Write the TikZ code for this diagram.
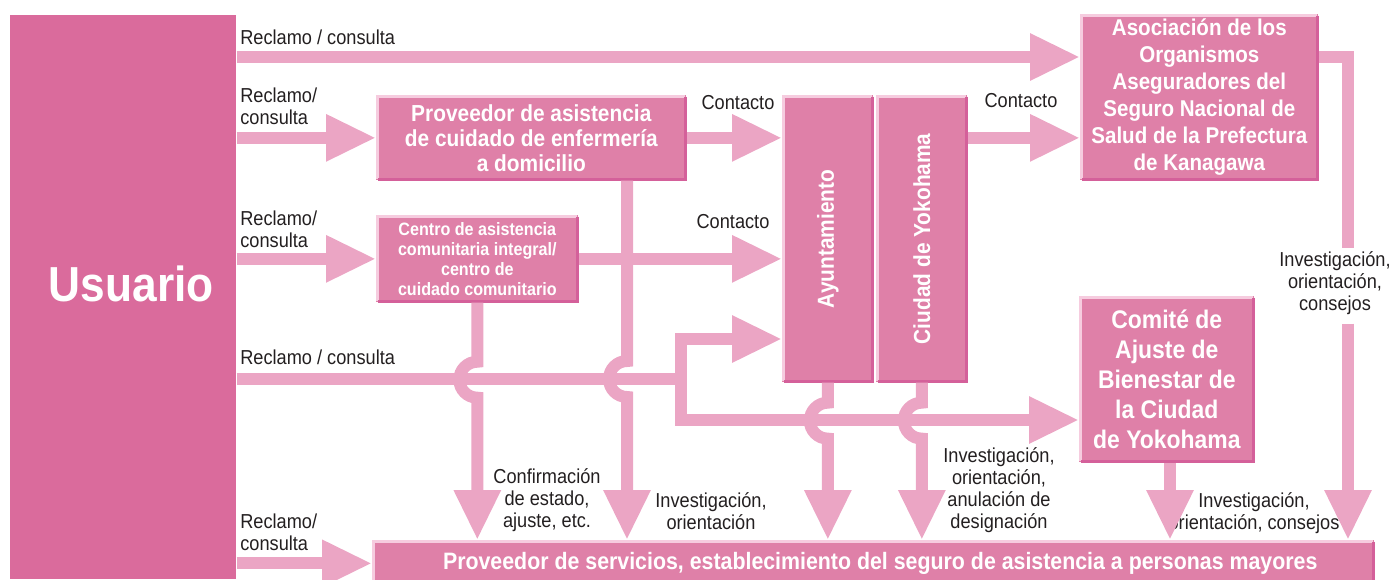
\documentclass[tikz,border=0pt]{standalone}
\usepackage{fontspec}
\setmainfont{Liberation Sans}[FakeStretch=0.9]
\usetikzlibrary{arrows.meta}

\definecolor{usercol}{HTML}{DA6B9C}
\definecolor{boxcol}{HTML}{DF80A8}
\definecolor{arrowcol}{HTML}{EBA5C4}
\definecolor{edgelight}{HTML}{F6CCDF}
\definecolor{edgedark}{HTML}{D4609A}
\definecolor{ink}{HTML}{231F20}

\tikzset{
  box/.style={fill=boxcol, text=white, align=center, inner sep=0pt, anchor=north west,
    font=\bfseries\fontsize{13.2}{14.2}\selectfont},
  link/.style={draw=arrowcol, line width=0.24cm},
  flow/.style={link, -{Triangle[length=1cm,width=0.88cm]}},
  lbl/.style={text=ink, inner sep=0pt, align=center, font=\fontsize{11.5}{12.5}\selectfont},
  lightedge/.style={draw=edgelight, line width=0.06cm},
  darkedge/.style={draw=edgedark, line width=0.06cm},
}

\begin{document}
\begin{tikzpicture}[x=0.02cm, y=-0.02cm]
\useasboundingbox (0,0) rectangle (1394,579);
\clip (0,0) rectangle (1394,579);

% boxes
\node[box, fill=usercol, minimum width=4.52cm, minimum height=11.28cm,
  font=\bfseries\fontsize{28}{30}\selectfont, text height=20pt, text depth=14.8pt] (usuario) at (10,15) {\hspace*{0.32cm}Usuario};
\node[box, minimum width=4.76cm, minimum height=3.32cm, font=\bfseries\fontsize{13}{15.4}\selectfont] (asoc) at (1080,14)
  {Asociación de los\\Organismos\\Aseguradores del\\Seguro Nacional de\\Salud de la Prefectura\\de Kanagawa};
\node[box, minimum width=6.2cm, minimum height=1.7cm] (prov) at (376,95)
  {Proveedor de asistencia\\de cuidado de enfermería\\a domicilio};
\node[box, minimum width=4.04cm, minimum height=1.74cm, font=\bfseries\fontsize{10.2}{11.3}\selectfont] (centro) at (376,215)
  {Centro de asistencia\\comunitaria integral/\\centro de\\cuidado comunitario};
\node[box, minimum width=1.82cm, minimum height=5.74cm] (ayu) at (782,95) {\rotatebox{90}{Ayuntamiento}};
\node[box, minimum width=1.82cm, minimum height=5.74cm] (ciudad) at (876,95) {\rotatebox{90}{Ciudad de Yokohama}};
\node[box, minimum width=3.5cm, minimum height=3.32cm, font=\bfseries\fontsize{14.5}{17}\selectfont] (comite) at (1079,296)
  {Comité de\\Ajuste de\\Bienestar de\\la Ciudad\\de Yokohama};
\node[box, minimum width=20.04cm, minimum height=0.92cm, font=\bfseries\fontsize{13.5}{15}\selectfont] (serv) at (372,540)
  {\hspace*{0.28cm}Proveedor de servicios, establecimiento del seguro de asistencia a personas mayores};

% bevelled edges
\foreach \n in {asoc,prov,centro,ayu,ciudad,comite,serv} {
  \draw[lightedge] ([shift={(1.5,-1.5)}]\n.south west) -- ([shift={(1.5,1.5)}]\n.north west) -- ([shift={(-1.5,1.5)}]\n.north east);
  \draw[darkedge] ([shift={(-1.5,1.5)}]\n.north east) -- ([shift={(-1.5,-1.5)}]\n.south east) -- ([shift={(1.5,-1.5)}]\n.south west);
}

% labels
\node[lbl, anchor=west] (rc1) at (240,37) {Reclamo / consulta};
\node[lbl, anchor=west, align=left] (rc2) at (240,106) {Reclamo/\\consulta};
\node[lbl, anchor=west, align=left] (rc3) at (240,229) {Reclamo/\\consulta};
\node[lbl, anchor=west] (rc4) at (240,357) {Reclamo / consulta};
\node[lbl, anchor=west, align=left] (rc5) at (240,532) {Reclamo/\\consulta};
\node[lbl] (ct1) at (738,103) {Contacto};
\node[lbl] (ct2) at (733,222) {Contacto};
\node[lbl] (ct3) at (1021,101) {Contacto};
\node[lbl] (conf) at (547,500) {Confirmación\\de estado,\\ajuste, etc.};
\node[lbl] (inv1) at (711,511) {Investigación,\\orientación};
\node[lbl] (inv2) at (999,490) {Investigación,\\orientación,\\anulación de\\designación};
\node[lbl] (inv3) at (1254,513) {Investigación,\\orientación, consejos};
\node[lbl] (inv4) at (1335,283) {Investigación,\\orientación,\\consejos};

% from the user
\draw[flow] (usuario.east |- 0,57) -- (asoc.west |- 0,57);
\draw[flow] (usuario.east |- prov.west) -- (prov.west);
\draw[flow] (usuario.east |- centro.west) -- (centro.west);
\draw[link] (usuario.east |- 0,379) -- (681,379);
\draw[flow] (681,379) |- (ayu.west |- 0,339);
\draw[flow] (681,379) |- (comite.west |- 0,420);
\draw[flow] (usuario.east |- serv.west) -- (serv.west);

% contact
\draw[flow] (prov.east) -- (ayu.west |- prov.east);
\draw[flow] (centro.east) -- (ayu.west |- centro.east);
\draw[flow] (ciudad.east |- prov.east) -- (asoc.west |- prov.east);

% down to the service provider
\draw[flow] (centro.south) -- ++(0,59) arc (270:90:18) -- (serv.north -| centro.south);
\draw[flow] (prov.south -| 627,0) -- (627,361) arc (270:90:18) -- (serv.north -| 627,0);
\draw[flow] (ayu.south) -- ++(0,20) arc (270:90:18) -- (serv.north -| ayu.south);
\draw[flow] (ciudad.south) -- ++(0,20) arc (270:90:18) -- (serv.north -| ciudad.south);
\draw[flow] (comite.south -| 1170,0) -- (serv.north -| 1170,0);
\draw[link] (asoc.east |- 0,57) -| ([yshift=2pt]inv4.north -| 1348,0);
\draw[flow] ([yshift=-5pt]inv4.south -| 1348,0) -- (serv.north -| 1348,0);
\end{tikzpicture}
\end{document}
